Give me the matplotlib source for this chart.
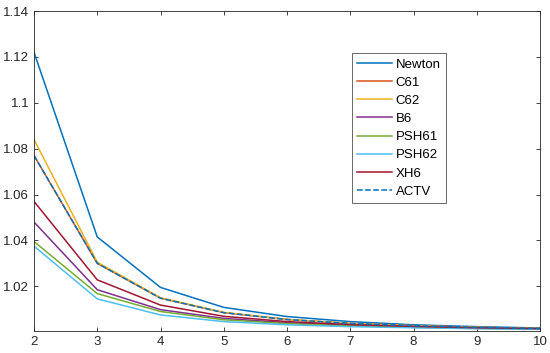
import matplotlib.pyplot as plt

# Iteration number
iters = [2, 3, 4, 5, 6, 7, 8, 9, 10]

# Values
newton = [1.122, 1.0415, 1.0195, 1.0108, 1.0068, 1.0046, 1.0032, 1.0024, 1.0018]
c61 = [1.077, 1.0300, 1.0148, 1.0085, 1.0055, 1.0038, 1.0028, 1.0021, 1.0016]
c62 = [1.084, 1.0305, 1.0150, 1.0086, 1.0056, 1.0038, 1.0028, 1.0021, 1.0016]
b6 = [1.048, 1.0185, 1.0098, 1.0060, 1.0041, 1.0030, 1.0023, 1.0018, 1.0014]
psh61 = [1.0395, 1.0168, 1.0090, 1.0054, 1.0037, 1.0027, 1.0021, 1.0016, 1.0013]
psh62 = [1.0375, 1.0145, 1.0075, 1.0046, 1.0032, 1.0024, 1.0019, 1.0015, 1.0012]
xh6 = [1.057, 1.0228, 1.0118, 1.0069, 1.0046, 1.0033, 1.0025, 1.0019, 1.0015]
actv = [1.077, 1.0300, 1.0148, 1.0085, 1.0055, 1.0038, 1.0028, 1.0021, 1.0016]

series = [
    ("Newton", newton, "#0072BD", "-"),
    ("C61", c61, "#D95319", "-"),
    ("C62", c62, "#EDB120", "-"),
    ("B6", b6, "#7E2F8E", "-"),
    ("PSH61", psh61, "#77AC30", "-"),
    ("PSH62", psh62, "#4DBEEE", "-"),
    ("XH6", xh6, "#A2142F", "-"),
    ("ACTV", actv, "#0072BD", "--"),
]

plt.rcParams["font.family"] = ["Liberation Sans", "DejaVu Sans"]

fig = plt.figure(figsize=(5.5, 3.53), dpi=100)
ax = fig.add_axes([34 / 550, 22 / 353, 506 / 550, 320 / 353])

for name, vals, color, ls in series:
    ax.plot(iters, vals, color=color, linestyle=ls, linewidth=1.1, label=name)

ax.set_xlim(2, 10)
ax.set_ylim(1.0005, 1.14)
ax.set_xticks(iters)
ax.set_yticks([1.02, 1.04, 1.06, 1.08, 1.1, 1.12, 1.14])
ax.set_yticklabels(["1.02", "1.04", "1.06", "1.08", "1.1", "1.12", "1.14"])

ax.tick_params(direction="in", top=True, right=True, length=3,
               labelsize=9.5, colors="#262626", width=0.6)
for sp in ax.spines.values():
    sp.set_color("#262626")
    sp.set_linewidth(0.6)

leg = ax.legend(loc="upper left", bbox_to_anchor=(318 / 506, 278 / 320),
                fontsize=9.5, frameon=True, fancybox=False,
                handlelength=2.6, labelspacing=0.45, borderpad=0.4,
                handletextpad=0.3, borderaxespad=0)
leg.get_frame().set_edgecolor("#262626")
leg.get_frame().set_linewidth(0.6)

fig.savefig("out.png", dpi=100)
